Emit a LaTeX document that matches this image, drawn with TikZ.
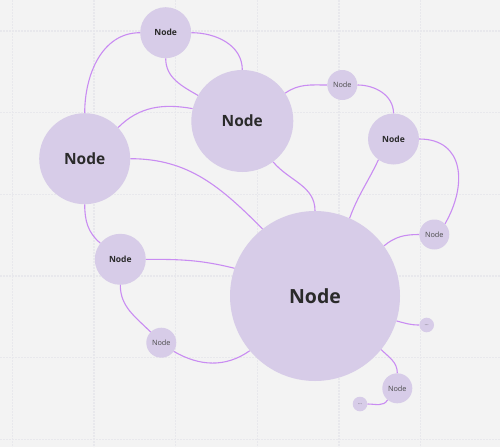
\documentclass[tikz,border=0pt]{standalone}
\usepackage{fontspec}
\setmainfont{Open Sans}

\definecolor{paper}{HTML}{F3F3F3}
\definecolor{gridgray}{HTML}{E8E8EC}
\definecolor{bubblefill}{HTML}{D7CCE8}
\definecolor{linkpurple}{HTML}{C98CF2}
\definecolor{ink}{HTML}{2A2A2A}
\definecolor{softink}{HTML}{4A4A4A}

\tikzset{
  bubble/.style={circle, fill=bubblefill, inner sep=0pt, text=ink},
  linkline/.style={draw=linkpurple, line width=1.1pt},
  gridline/.style={draw=gridgray, line width=1.2pt, dash pattern=on 2pt off 1pt}
}

\begin{document}
\begin{tikzpicture}[x=1pt, y=1pt]
    % 背景
    \fill[paper] (0,0) rectangle (500,-447);
    \useasboundingbox (0,0) rectangle (500,-447);

    % 网格
    \draw[gridline] (12.3,0) -- (12.3,-447);
    \draw[gridline] (94,0) -- (94,-447);
    \draw[gridline] (175.7,0) -- (175.7,-447);
    \draw[gridline] (257.3,0) -- (257.3,-447);
    \draw[gridline] (339,0) -- (339,-447);
    \draw[gridline] (420.7,0) -- (420.7,-447);
    \draw[gridline] (0,-31) -- (500,-31);
    \draw[gridline] (0,-112.7) -- (500,-112.7);
    \draw[gridline] (0,-194.3) -- (500,-194.3);
    \draw[gridline] (0,-276) -- (500,-276);
    \draw[gridline] (0,-357.7) -- (500,-357.7);
    \draw[gridline] (0,-439.3) -- (500,-439.3);

    % 大节点
    \node[bubble, minimum size=170pt, font=\bfseries\fontsize{19.5}{24}\selectfont] (hub) at (315,-296) {Node};
    \node[bubble, minimum size=102pt, font=\bfseries\fontsize{15.5}{18}\selectfont] (upper) at (242.3,-121) {Node};
    \node[bubble, minimum size=91pt, font=\bfseries\fontsize{15.5}{18}\selectfont] (left) at (84.7,-158.7) {Node};

    % 中节点
    \node[bubble, minimum size=51pt, font=\bfseries\fontsize{8.5}{10}\selectfont] (top) at (165.7,-32.7) {Node};
    \node[bubble, minimum size=51pt, font=\bfseries\fontsize{8.5}{10}\selectfont] (right) at (393.5,-139) {Node};
    \node[bubble, minimum size=51pt, font=\bfseries\fontsize{8.5}{10}\selectfont] (midleft) at (120.3,-259.3) {Node};

    % 小节点
    \node[bubble, minimum size=30pt, text=softink, font=\fontsize{7.3}{9}\selectfont] (topright) at (342.3,-85) {Node};
    \node[bubble, minimum size=30pt, text=softink, font=\fontsize{7.3}{9}\selectfont] (farright) at (434.3,-234.5) {Node};
    \node[bubble, minimum size=30pt, text=softink, font=\fontsize{7.3}{9}\selectfont] (bottom) at (397.3,-388.3) {Node};
    \node[bubble, minimum size=30pt, text=softink, font=\fontsize{7.3}{9}\selectfont] (lowleft) at (161.3,-342.7) {Node};
    \node[bubble, minimum size=14.6pt, text=softink, font=\fontsize{5}{6}\selectfont] (dotsa) at (426.7,-325) {...};
    \node[bubble, minimum size=14.6pt, text=softink, font=\fontsize{5}{6}\selectfont] (dotsb) at (360,-404) {...};

    % 连线
    \draw[linkline] (top.west) to[out=180, in=90] (left.north);
    \draw[linkline] (top.east) to[out=0, in=90] (upper.north);
    \draw[linkline] (top.south) to[out=-90, in=150] (upper.150);
    \draw[linkline] (left.43) to[out=45, in=170] (upper.166);
    \draw[linkline] (left.east) to[out=0, in=135] (hub.128);
    \draw[linkline] (left.south) to[out=-90, in=140] (midleft.141);
    \draw[linkline] (upper.-53) to[out=-50, in=90] (hub.north);
    \draw[linkline] (upper.33) to[out=35, in=180] (topright.west);
    \draw[linkline] (topright.east) to[out=0, in=90] (right.north);
    \draw[linkline] (right.-126) to[out=-115, in=70] (hub.66);
    \draw[linkline] (right.east) to[out=0, in=60, looseness=1.3] (farright.45);
    \draw[linkline] (hub.36) to[out=40, in=180] (farright.west);
    \draw[linkline] (hub.-17) to[out=-15, in=180] (dotsa.west);
    \draw[linkline] (hub.-39) to[out=-45, in=90] (bottom.north);
    \draw[linkline] (bottom.-130) to[out=-120, in=0] (dotsb.east);
    \draw[linkline] (midleft.east) to[out=0, in=166] (hub.161);
    \draw[linkline] (midleft.south) to[out=-90, in=135] (lowleft.135);
    \draw[linkline] (lowleft.-35) to[out=-30, in=-145] (hub.-140);
\end{tikzpicture}
\end{document}
